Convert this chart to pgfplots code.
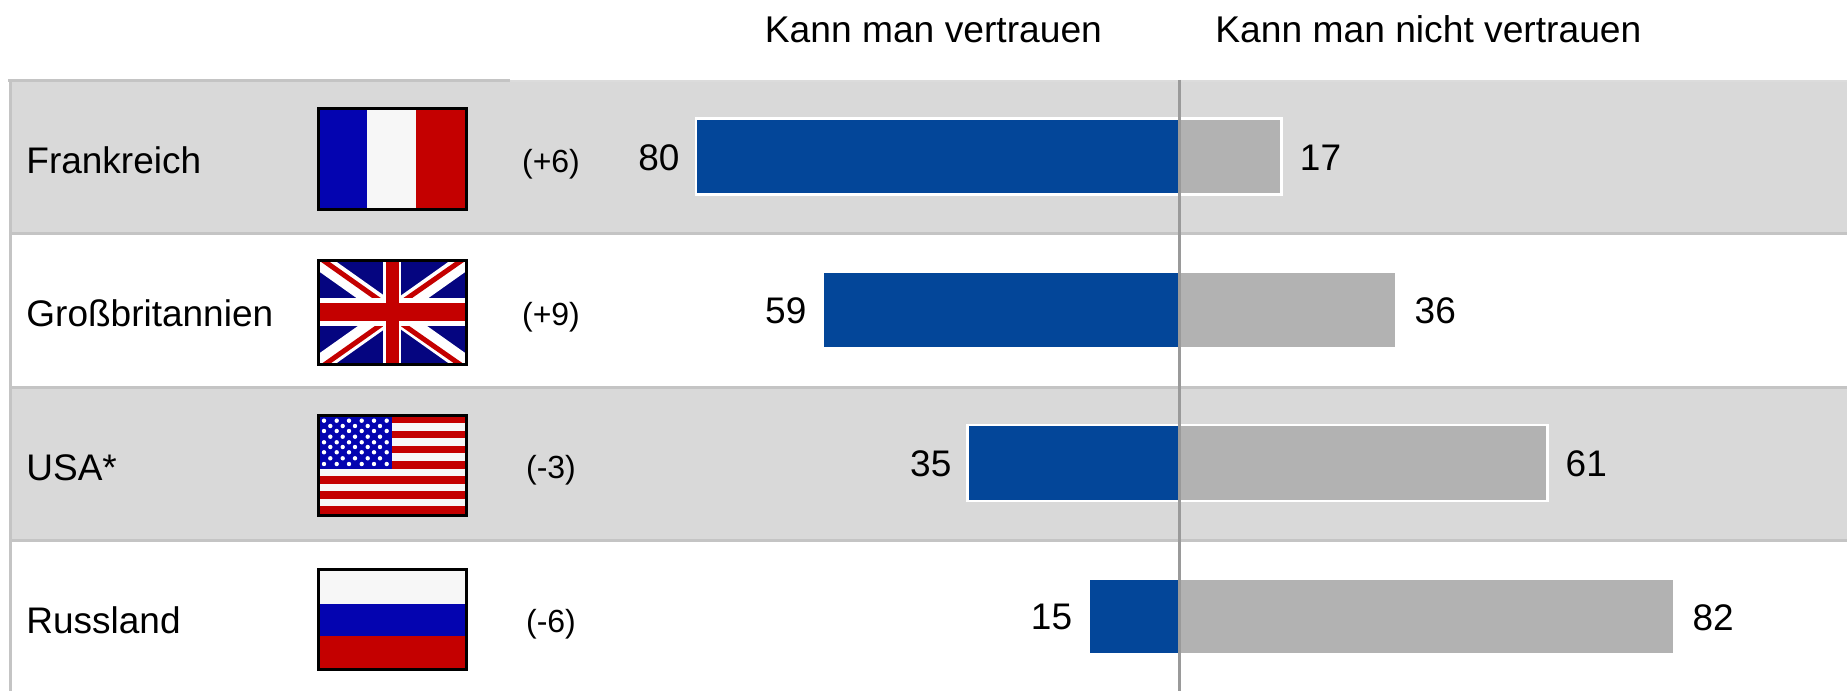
\documentclass[border=0pt]{standalone}
\usepackage{fontspec}
\setmainfont{Liberation Sans}
\usepackage{pgfplots}
\pgfplotsset{compat=1.18}
\definecolor{band}{HTML}{D9D9D9}
\definecolor{rule}{HTML}{C4C4C4}
\definecolor{midline}{HTML}{9A9A9A}
\definecolor{trustBlue}{HTML}{034699}
\definecolor{noGrey}{HTML}{B2B2B2}
\definecolor{flagBlue}{HTML}{0404B0}
\definecolor{flagRed}{HTML}{C40000}
\definecolor{flagWhite}{HTML}{F7F7F7}
\definecolor{flagNavy}{HTML}{050580}

\begin{document}
\begin{tikzpicture}
\path[use as bounding box] (0,0) rectangle (923.5pt,345.5pt);

% everything in this scope is in reference pixels, y down
\begin{scope}[yshift=345.5pt,x=0.5pt,y=-0.5pt]
  \fill[band] (9,81) rectangle (1847,234);
  \fill[band] (9,388) rectangle (1847,541);
  \draw[rule,line width=1.5pt] (8,81) -- (510,81);
  \draw[rule!60,line width=1pt] (510,81) -- (1847,81);
  \foreach \yy in {234,388,541} \draw[rule,line width=1.5pt] (9,\yy) -- (1847,\yy);
  \draw[rule,line width=1.5pt] (10,80) -- (10,691);

  % France
  \fill[flagBlue] (317,107) rectangle (367,211);
  \fill[flagWhite] (367,107) rectangle (416,211);
  \fill[flagRed] (416,107) rectangle (468,211);
  \draw[black,line width=1.5pt] (318.5,108.5) rectangle (466.5,209.5);

  % UK
  \begin{scope}
    \clip (318,260) rectangle (467,365);
    \fill[flagNavy] (317,259) rectangle (468,366);
    \draw[white,line width=9pt] (317,259) -- (468,366);
    \draw[white,line width=9pt] (317,366) -- (468,259);
    \draw[flagRed,line width=2.5pt] (317,256) -- (392,309);
    \draw[flagRed,line width=2.5pt] (392,317) -- (468,370);
    \draw[flagRed,line width=2.5pt] (317,370) -- (392,317);
    \draw[flagRed,line width=2.5pt] (392,309) -- (468,256);
    \fill[white] (383,259) rectangle (401,366);
    \fill[white] (317,298) rectangle (468,326);
    \fill[flagRed] (385.5,259) rectangle (398.5,366);
    \fill[flagRed] (317,303.5) rectangle (468,321);
  \end{scope}
  \draw[black,line width=1.5pt] (318.5,260.5) rectangle (466.5,364.5);

  % USA
  \fill[flagWhite] (317,414) rectangle (468,517);
  \foreach \i in {0,2,...,12}
    \fill[flagRed] (317,415.7+7.55*\i) rectangle (468,415.7+7.55*\i+7.55);
  \fill[flagBlue] (317,414) rectangle (392,469);
  \foreach \yy in {420.7,431,442.3,452.3,464}
    \foreach \xx in {324,336.7,349,361.7,374,386.7}
      \fill[white] (\xx,\yy) circle (2.2);
  \foreach \yy in {426,436.7,447,458.3}
    \foreach \xx in {330.3,342.7,355,367.7,380}
      \fill[white] (\xx,\yy) circle (2.2);
  \draw[black,line width=1.5pt] (318.5,415.5) rectangle (466.5,515.5);

  % Russia
  \fill[flagWhite] (317,568) rectangle (468,604);
  \fill[flagBlue] (317,604) rectangle (468,636);
  \fill[flagRed] (317,636) rectangle (468,671);
  \draw[black,line width=1.5pt] (318.5,569.5) rectangle (466.5,669.5);

  % column heads
  \node[anchor=base west,inner sep=0pt,font=\fontsize{18.6}{22}\selectfont] at (764.5,43) {Kann man vertrauen};
  \node[anchor=base west,inner sep=0pt,font=\fontsize{18.6}{22}\selectfont] at (1215,43) {Kann man nicht vertrauen};

  % change against earlier survey
  \foreach \yy/\tx in {173/(+6),326/(+9),479/(-3),632/(-6)}
    \node[anchor=base,inner sep=0pt,font=\fontsize{16}{18}\selectfont] at (551,\yy) {\tx};
\end{scope}

\begin{axis}[
    at={(0,0)},
    anchor=south west,
    scale only axis,
    width=923.5pt,
    height=345.5pt,
    xmin=-195.2, xmax=110.6,
    ymin=-1.021, ymax=3.487,
    y dir=reverse,
    xbar,
    bar width=38pt,
    /pgf/bar shift=0pt,
    axis line style={draw=none},
    xtick=\empty,
    ytick={0,1,2,3},
    yticklabels={Frankreich,Großbritannien,USA*,Russland},
    tick style={draw=none},
    major tick length=0pt,
    yticklabel style={anchor=west,inner sep=0pt,xshift=13pt,yshift=-2pt,
        text height=13.2pt,text depth=0pt,font=\fontsize{18.5}{20}\selectfont},
    clip=false,
    point meta=explicit,
    /pgf/number format/assume math mode=true,
    nodes near coords,
    nodes near coords align={horizontal},
    nodes near coords style={font=\fontsize{18.5}{20}\selectfont,text=black,inner ysep=0pt,yshift=-0.5pt},
]
\addplot[fill=trustBlue,draw=white,line width=1.25pt,
    every node near coord/.append style={anchor=east,inner xsep=7.5pt}] coordinates {
    (-80,0) [80]
    (-59,1) [59]
    (-35,2) [35]
    (-15,3) [15]
};
\addplot[fill=noGrey,draw=white,line width=1.25pt,
    every node near coord/.append style={anchor=west,inner xsep=8.5pt}] coordinates {
    (17,0) [17]
    (36,1) [36]
    (61,2) [61]
    (82,3) [82]
};
\end{axis}

\begin{scope}[yshift=345.5pt,x=0.5pt,y=-0.5pt]
  \draw[midline,line width=1.5pt] (1179,80) -- (1179,691);
\end{scope}
\end{tikzpicture}
\end{document}
